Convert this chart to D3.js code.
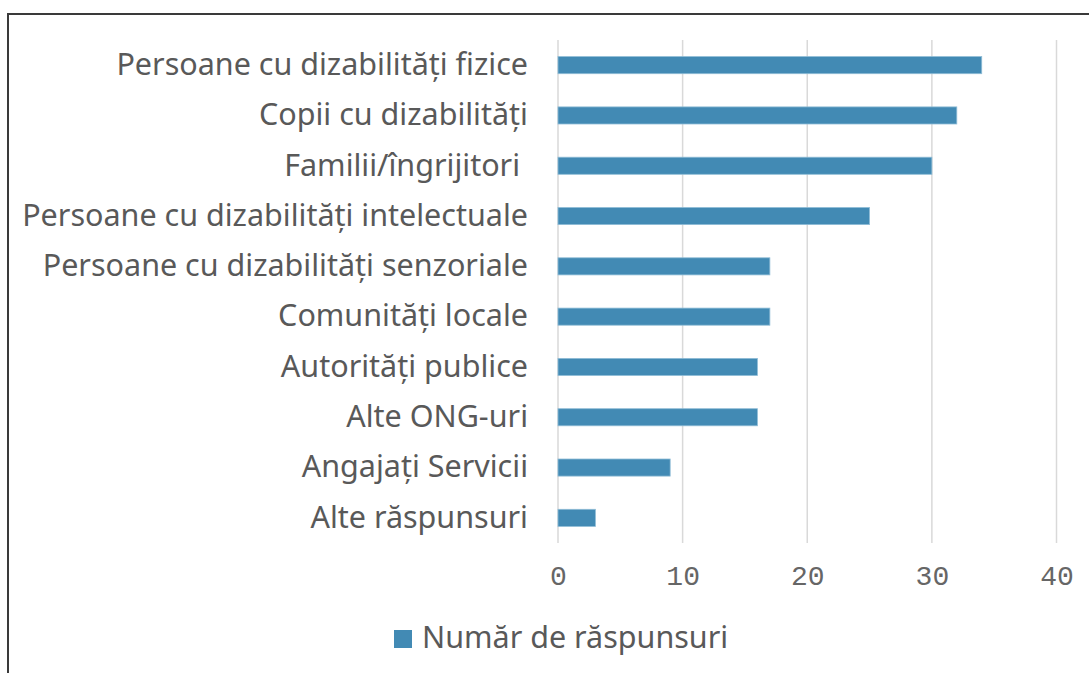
<!DOCTYPE html>
<html><head><meta charset="utf-8">
<script src="https://cdn.jsdelivr.net/npm/d3@7"></script>
<style>body{margin:0;background:#fff}svg{display:block}</style>
</head><body><svg id="c" width="1089" height="673"></svg>
<script>
const categories = ["Persoane cu dizabilități fizice","Copii cu dizabilități","Familii/îngrijitori ","Persoane cu dizabilități intelectuale","Persoane cu dizabilități senzoriale","Comunități locale","Autorități publice","Alte ONG-uri","Angajați Servicii","Alte răspunsuri"];
const values = [34,32,30,25,17,17,16,16,9,3];
const tickValues = [0,10,20,30,40];
const seriesName = "Număr de răspunsuri";

const svg = d3.select("#c");
svg.append("rect").attr("x",8).attr("y",14).attr("width",1200).attr("height",800)
  .attr("fill","#fff").attr("stroke","#3a3a3a").attr("stroke-width",2);

const x = d3.scaleLinear().domain([0,40]).range([558,1056.5]);
const y = d3.scaleBand().domain(categories).range([40,543]).paddingInner(0.66).paddingOuter(0.33);
const color = "#428ab4";
const font = "'Noto Sans', 'Open Sans', sans-serif";

svg.append("g").selectAll("line").data(tickValues).join("line")
  .attr("x1",d=>x(d)).attr("x2",d=>x(d)).attr("y1",40).attr("y2",543)
  .attr("stroke","#d9d9d9").attr("stroke-width",1.5);

svg.append("g").selectAll("rect").data(values).join("rect")
  .attr("x",x(0)).attr("y",(d,i)=>y(categories[i]))
  .attr("width",d=>x(d)-x(0)).attr("height",y.bandwidth())
  .attr("fill",color).attr("stroke","#8fbcd6").attr("stroke-width",0.8);

const xa = svg.append("g").attr("transform","translate(0,543)")
  .call(d3.axisBottom(x).tickValues(tickValues).tickSize(0).tickPadding(22));
xa.select(".domain").remove();
xa.selectAll("text").attr("font-family","'Liberation Mono', monospace").attr("font-size",28).attr("fill","#666");

const ya = svg.append("g").attr("transform","translate(558,0)")
  .call(d3.axisLeft(y).tickSize(0).tickPadding(30));
ya.select(".domain").remove();
ya.selectAll("text").attr("font-family",font).attr("font-size",30.5).attr("fill","#595959")
  .style("white-space","pre");

const lg = svg.append("g");
lg.append("rect").attr("x",394).attr("y",630).attr("width",18).attr("height",18).attr("fill",color);
lg.append("text").attr("x",422).attr("y",648).text(seriesName)
  .attr("font-family",font).attr("font-size",30.5).attr("fill","#595959");
</script></body></html>
